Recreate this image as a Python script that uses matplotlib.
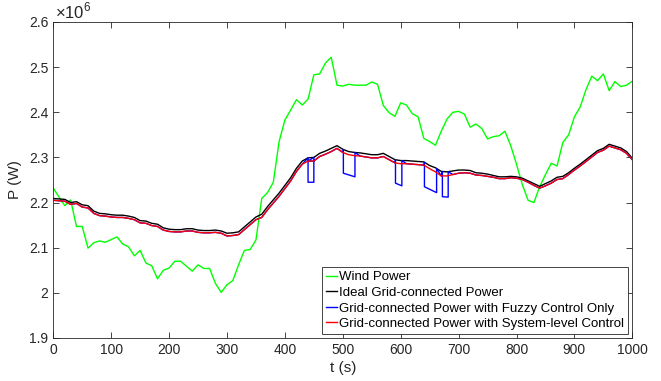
import numpy as np
import matplotlib.pyplot as plt
from matplotlib.ticker import FuncFormatter

plt.rcParams['font.family'] = ['Liberation Sans', 'DejaVu Sans']
plt.rcParams['mathtext.fontset'] = 'custom'
plt.rcParams['mathtext.rm'] = 'Liberation Sans'

# time grid (s), power values in units of 1e6 W
t = np.arange(0, 1001, 10)

wind = [2.232, 2.212, 2.193, 2.206, 2.147, 2.147, 2.099, 2.111, 2.115, 2.112,
        2.118, 2.124, 2.108, 2.102, 2.082, 2.094, 2.066, 2.060, 2.031, 2.050,
        2.055, 2.070, 2.070, 2.059, 2.048, 2.062, 2.054, 2.054, 2.021, 2.001,
        2.018, 2.027, 2.062, 2.094, 2.096, 2.117, 2.209, 2.222, 2.245, 2.335,
        2.383, 2.405, 2.428, 2.416, 2.429, 2.483, 2.485, 2.509, 2.522, 2.460,
        2.458, 2.462, 2.460, 2.460, 2.460, 2.467, 2.462, 2.415, 2.399, 2.391,
        2.421, 2.416, 2.397, 2.390, 2.342, 2.335, 2.327, 2.358, 2.385, 2.400,
        2.402, 2.396, 2.367, 2.374, 2.364, 2.341, 2.346, 2.348, 2.358, 2.326,
        2.285, 2.240, 2.205, 2.200, 2.235, 2.262, 2.287, 2.281, 2.333, 2.350,
        2.390, 2.412, 2.450, 2.480, 2.470, 2.485, 2.448, 2.468, 2.457, 2.460,
        2.469]

ideal = [2.209, 2.208, 2.207, 2.200, 2.202, 2.195, 2.193, 2.181, 2.176, 2.175,
         2.173, 2.172, 2.172, 2.170, 2.167, 2.160, 2.159, 2.154, 2.152, 2.144,
         2.141, 2.140, 2.140, 2.142, 2.142, 2.139, 2.138, 2.138, 2.139, 2.137,
         2.132, 2.133, 2.135, 2.146, 2.157, 2.168, 2.174, 2.191, 2.206, 2.221,
         2.238, 2.255, 2.276, 2.292, 2.299, 2.300, 2.309, 2.314, 2.320, 2.326,
         2.318, 2.313, 2.311, 2.310, 2.308, 2.306, 2.306, 2.309, 2.302, 2.295,
         2.293, 2.293, 2.292, 2.291, 2.290, 2.282, 2.277, 2.269, 2.268, 2.270,
         2.272, 2.272, 2.271, 2.266, 2.265, 2.263, 2.260, 2.257, 2.257, 2.258,
         2.257, 2.254, 2.248, 2.242, 2.236, 2.242, 2.248, 2.256, 2.258, 2.266,
         2.276, 2.285, 2.295, 2.305, 2.315, 2.320, 2.329, 2.325, 2.321, 2.313,
         2.298]

system = [2.205, 2.204, 2.203, 2.196, 2.198, 2.190, 2.188, 2.176, 2.171, 2.170,
          2.168, 2.167, 2.167, 2.165, 2.162, 2.155, 2.154, 2.149, 2.147, 2.139,
          2.136, 2.135, 2.135, 2.137, 2.137, 2.134, 2.133, 2.133, 2.134, 2.132,
          2.126, 2.127, 2.129, 2.140, 2.151, 2.162, 2.167, 2.184, 2.199, 2.214,
          2.231, 2.248, 2.269, 2.285, 2.292, 2.292, 2.302, 2.307, 2.313, 2.320,
          2.311, 2.306, 2.304, 2.303, 2.301, 2.299, 2.299, 2.302, 2.295, 2.288,
          2.286, 2.286, 2.285, 2.284, 2.283, 2.275, 2.268, 2.259, 2.259, 2.262,
          2.265, 2.266, 2.265, 2.261, 2.260, 2.258, 2.256, 2.253, 2.253, 2.255,
          2.254, 2.251, 2.245, 2.238, 2.232, 2.237, 2.243, 2.251, 2.253, 2.262,
          2.272, 2.281, 2.291, 2.301, 2.311, 2.316, 2.325, 2.321, 2.317, 2.309,
          2.295]

# fuzzy-only control: follows system-level curve except for these drops
dip_start = [440, 501, 591, 641, 672]
dip_end = [450, 521, 602, 662, 682]
dip_low_start = [2.245, 2.265, 2.243, 2.235, 2.213]
dip_low_end = [2.245, 2.257, 2.237, 2.222, 2.212]

fuzzy_t, fuzzy_p = [], []
for ti, pi in zip(t, system):
    if any(s < ti < e for s, e in zip(dip_start, dip_end)):
        continue
    for s, e, ls, le in zip(dip_start, dip_end, dip_low_start, dip_low_end):
        if fuzzy_t and fuzzy_t[-1] < s <= ti:
            fuzzy_t += [s, s, e, e]
            fuzzy_p += [np.interp(s, t, ideal), ls, le, np.interp(e, t, ideal)]
    fuzzy_t.append(ti)
    fuzzy_p.append(pi)

fig = plt.figure(figsize=(6.61, 3.81), dpi=100)
ax = fig.add_axes([0.0806, 0.1129, 0.876, 0.8294])

ax.plot(t, wind, color=(0, 1, 0), lw=1.0, label='Wind Power')
ax.plot(t, ideal, color='k', lw=1.0, label='Ideal Grid-connected Power')
ax.plot(fuzzy_t, fuzzy_p, color=(0, 0, 1), lw=1.0,
        label='Grid-connected Power with Fuzzy Control Only')
ax.plot(t, system, color=(1, 0, 0), lw=1.0,
        label='Grid-connected Power with System-level Control')

ax.set_xlim(0, 1000)
ax.set_ylim(1.9, 2.6)
ax.set_xticks(np.arange(0, 1001, 100))
ax.set_yticks(np.arange(1.9, 2.61, 0.1))
ax.yaxis.set_major_formatter(FuncFormatter(lambda v, p: f'{v:g}'))

axis_col = '#262626'
for sp in ax.spines.values():
    sp.set_color(axis_col)
    sp.set_linewidth(0.6)
ax.tick_params(direction='in', top=True, right=True, length=4, width=0.6,
               color=axis_col, labelcolor=axis_col, labelsize=10)

ax.set_xlabel('t (s)', fontsize=11, color=axis_col, labelpad=3)
ax.set_ylabel('P (W)', fontsize=11, color=axis_col, labelpad=5)
ax.text(0.003, 1.003, r'$\times10^{6}$', transform=ax.transAxes, fontsize=12,
        color=axis_col, ha='left', va='bottom')

leg = ax.legend(loc='lower right', fontsize=9.5, handlelength=0.9,
                handletextpad=0.15, borderpad=0.3, labelspacing=0.25,
                borderaxespad=0.3, fancybox=False, framealpha=1)
leg.get_frame().set_edgecolor(axis_col)
leg.get_frame().set_linewidth(0.6)

fig.savefig('out.png', dpi=100)
